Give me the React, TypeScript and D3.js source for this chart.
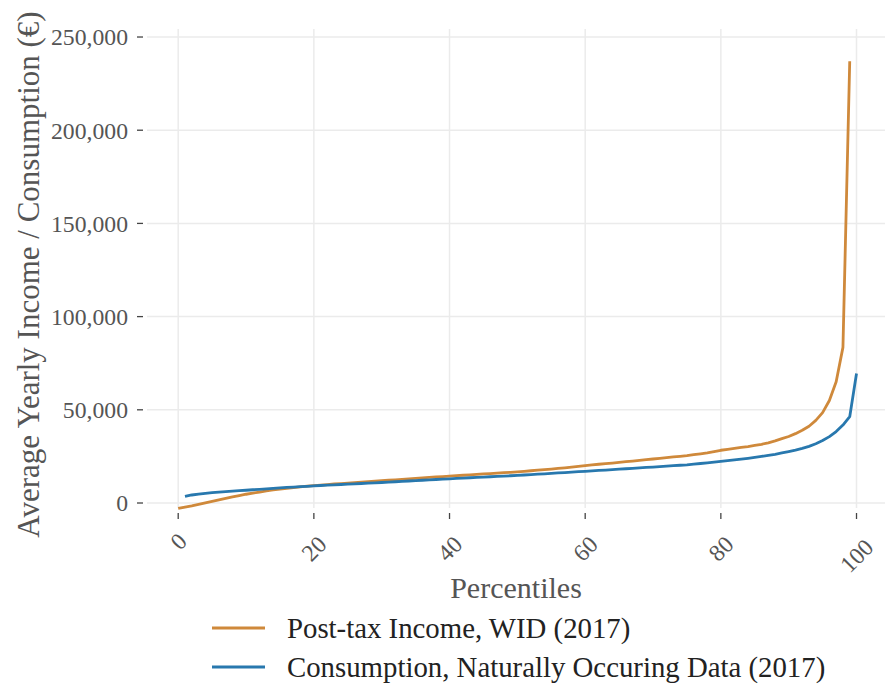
import React, { useEffect, useRef } from 'react'
import * as d3 from 'd3'

// post-tax income, percentiles 0..99
const incomeStart = 0
const incomeValues = [
  -2900, -2200, -1500, -700, 100, 900, 1700, 2500, 3300, 4000,
  4700, 5300, 5900, 6500, 7000, 7500, 7900, 8300, 8700, 9000,
  9300, 9600, 9900, 10200, 10450, 10700, 10950, 11200, 11450, 11700,
  11950, 12200, 12450, 12700, 12950, 13200, 13450, 13700, 13950, 14200,
  14450, 14680, 14900, 15130, 15350, 15580, 15800, 16030, 16250, 16480,
  16700, 17000, 17300, 17600, 17900, 18200, 18550, 18900, 19250, 19650,
  20100, 20450, 20800, 21150, 21450, 21800, 22150, 22500, 22850, 23250,
  23600, 23950, 24300, 24700, 25050, 25400, 25900, 26400, 26900, 27600,
  28300, 28800, 29300, 29800, 30300, 30900, 31500, 32300, 33300, 34500,
  35700, 37200, 39000, 41200, 44300, 48500, 55000, 65000, 83500, 237000,
]

// consumption, percentiles 1..100
const consumptionStart = 1
const consumptionValues = [
  3500, 4300, 4800, 5200, 5550, 5850, 6100, 6350, 6600, 6850,
  7100, 7350, 7600, 7850, 8100, 8350, 8550, 8750, 8950, 9200,
  9380, 9560, 9740, 9920, 10100, 10280, 10460, 10640, 10820, 11000,
  11200, 11400, 11600, 11800, 12000, 12200, 12400, 12600, 12800, 13000,
  13180, 13360, 13540, 13720, 13900, 14080, 14260, 14440, 14620, 14800,
  15020, 15240, 15460, 15680, 15900, 16120, 16340, 16560, 16780, 17000,
  17230, 17460, 17690, 17920, 18150, 18380, 18610, 18840, 19070, 19300,
  19540, 19780, 20020, 20260, 20500, 20850, 21200, 21550, 21900, 22300,
  22700, 23100, 23550, 24000, 24500, 25000, 25550, 26150, 26850, 27600,
  28400, 29300, 30400, 31800, 33500, 35600, 38300, 41800, 46300, 69500,
]

const seriesNames = ['Post-tax Income, WID (2017)', 'Consumption, Naturally Occuring Data (2017)']
const seriesColors = ['#cf893b', '#2878ae']

const xTicks = [0, 20, 40, 60, 80, 100]
const yTicks = [0, 50000, 100000, 150000, 200000, 250000]

const W = 889
const H = 684
const font = '"Liberation Serif", "Times New Roman", serif'
const textColor = '#555555'
const gridColor = '#ebebeb'

export default function App() {
  const ref = useRef<SVGSVGElement>(null)

  useEffect(() => {
    const svg = d3.select(ref.current)
    svg.selectAll('*').remove()

    const left = 147, right = 885, top = 29, bottom = 508
    const x = d3.scaleLinear().domain([-4.6, 104.2]).range([left, right])
    const y = d3.scaleLinear().domain([-2680, 254300]).range([bottom, top])

    // grid
    svg.append('g').selectAll('line').data(yTicks).join('line')
      .attr('x1', left).attr('x2', right)
      .attr('y1', d => y(d)).attr('y2', d => y(d))
      .style('stroke', gridColor).style('stroke-width', 1.5)
    svg.append('g').selectAll('line').data(xTicks).join('line')
      .attr('x1', d => x(d)).attr('x2', d => x(d))
      .attr('y1', top).attr('y2', bottom)
      .style('stroke', gridColor).style('stroke-width', 1.5)

    // y ticks
    const fmt = d3.format(',')
    const yAxis = svg.append('g')
    yAxis.selectAll('line').data(yTicks).join('line')
      .attr('x1', left - 10).attr('x2', left - 4)
      .attr('y1', d => y(d)).attr('y2', d => y(d))
      .style('stroke', '#444').style('stroke-width', 1.3)
    yAxis.selectAll('text').data(yTicks).join('text')
      .attr('x', left - 19).attr('y', d => y(d))
      .attr('dy', '0.35em')
      .style('text-anchor', 'end')
      .style('font-family', font).style('font-size', '23.7px')
      .style('fill', textColor)
      .text(d => fmt(d))

    // x ticks
    const xAxis = svg.append('g')
    xAxis.selectAll('line').data(xTicks).join('line')
      .attr('x1', d => x(d)).attr('x2', d => x(d))
      .attr('y1', bottom + 5).attr('y2', bottom + 11)
      .style('stroke', '#444').style('stroke-width', 1.3)
    xAxis.selectAll('text').data(xTicks).join('text')
      .attr('transform', d => {
        const n = String(d).length
        const half = (n * 11.85 + 20) / (2 * Math.SQRT2) + (n - 1) * 3
        return `translate(${x(d)}, ${bottom + 22 + half}) rotate(-45)`
      })
      .attr('dy', '0.35em')
      .style('text-anchor', 'middle')
      .style('font-family', font).style('font-size', '23.7px')
      .style('fill', textColor)
      .text(d => String(d))

    // axis titles
    svg.append('text')
      .attr('transform', `translate(39, ${(top + bottom) / 2 + 6}) rotate(-90)`)
      .style('text-anchor', 'middle')
      .style('font-family', font).style('font-size', '31px')
      .style('fill', textColor)
      .text('Average Yearly Income / Consumption (€)')
    svg.append('text')
      .attr('x', (left + right) / 2).attr('y', 598)
      .style('text-anchor', 'middle')
      .style('font-family', font).style('font-size', '30px')
      .style('fill', textColor)
      .text('Percentiles')

    // lines
    const line = d3.line<number>()
    const series = [
      incomeValues.map((v, i) => [x(incomeStart + i), y(v)]),
      consumptionValues.map((v, i) => [x(consumptionStart + i), y(v)]),
    ]
    svg.append('g').selectAll('path').data(series).join('path')
      .attr('d', d => line(d as any))
      .style('fill', 'none')
      .style('stroke', (d, i) => seriesColors[i])
      .style('stroke-width', 2.8)
      .style('stroke-linejoin', 'round')

    // legend
    const legend = svg.append('g')
    legend.selectAll('line').data(seriesNames).join('line')
      .attr('x1', 212).attr('x2', 265)
      .attr('y1', (d, i) => 628 + i * 39).attr('y2', (d, i) => 628 + i * 39)
      .style('stroke', (d, i) => seriesColors[i])
      .style('stroke-width', 2.8)
    legend.selectAll('text').data(seriesNames).join('text')
      .attr('x', 287).attr('y', (d, i) => 628 + i * 39)
      .attr('dy', '0.35em')
      .style('font-family', font).style('font-size', '28.8px')
      .style('fill', '#222')
      .text(d => d)
  }, [])

  return (
    <svg ref={ref} width={W} height={H}
      style={{ position: 'absolute', left: 0, top: 0, background: '#fff' }} />
  )
}
